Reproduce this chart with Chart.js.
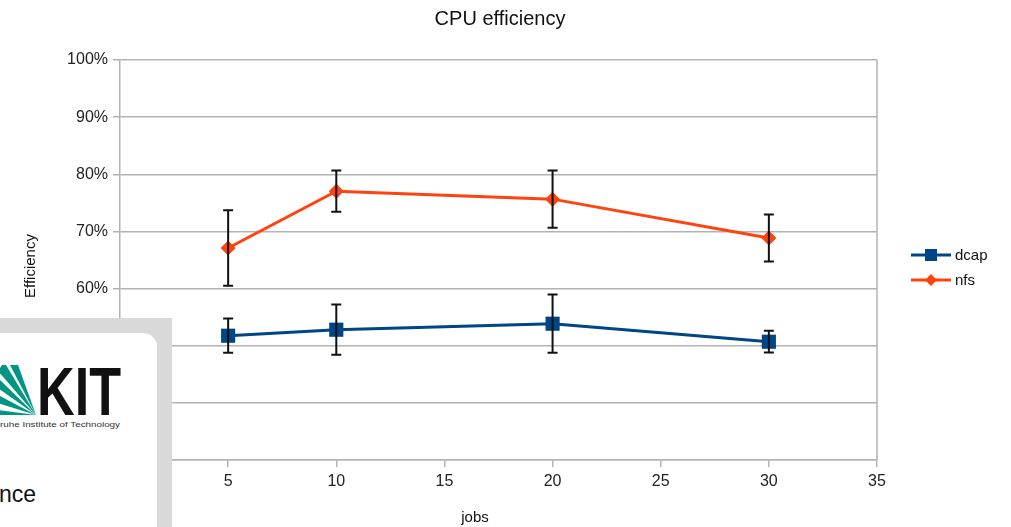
<!DOCTYPE html>
<html><head><meta charset="utf-8">
<script src="https://cdn.jsdelivr.net/npm/chart.js@4"></script>
<style>
html,body{margin:0;padding:0;background:#fff;}
#wrap{position:relative;width:1011px;height:527px;overflow:hidden;}
#overlay{position:absolute;left:0;top:318px;width:172px;height:209px;background:#d9d9d9;}
#card{position:absolute;left:0;top:15px;width:157px;height:194px;background:#fff;border-top-right-radius:14px;overflow:hidden;}
#card svg{position:absolute;left:0;top:0;}
#nce{position:absolute;left:-1px;top:148px;font:23px "Liberation Sans",Arial,sans-serif;color:#111;}
</style></head>
<body><div id="wrap"><canvas id="c" width="1011" height="527"></canvas>
<div id="overlay"><div id="card">
<svg width="157" height="194" viewBox="0 0 157 194">
  <g fill="#009682">
    <polygon points="36,82 -2,82 -2,77"/>
    <polygon points="36,82 -2,70 -2,62"/>
    <polygon points="36,82 -2,55 -2,45"/>
    <polygon points="36,82 -2,38 2,32 6,32"/>
    <polygon points="36,82 10,32 18,32"/>
  </g>
  <text x="37" y="82" font-family="Liberation Sans, Arial, sans-serif" font-weight="bold" font-size="68" fill="#111" textLength="84" lengthAdjust="spacingAndGlyphs">KIT</text>
  <text x="0" y="94" font-family="Liberation Sans, Arial, sans-serif" font-size="8" fill="#333" textLength="120" lengthAdjust="spacingAndGlyphs">ruhe Institute of Technology</text>
</svg>
<div id="nce">nce</div>
</div></div></div>
<script>
const jobs = [5, 10, 20, 30];
const dcapValues = [51.75, 52.8, 53.85, 50.7];
const dcapErrors = [3.0, 4.4, 5.1, 1.9];
const nfsValues = [67.1, 77.05, 75.65, 68.85];
const nfsErrors = [6.6, 3.6, 5.0, 4.1];
const yTicks = [30, 40, 50, 60, 70, 80, 90, 100];
const xTicks = [0, 5, 10, 15, 20, 25, 30, 35];
const seriesNames = ['dcap', 'nfs'];

const FONT = '"Liberation Sans", Arial, sans-serif';
const GRID = '#b3b3b3';

function pts(vals){ return jobs.map((j,i)=>({x:j, y:vals[i]})); }

const extras = {
  id: 'extras',
  afterDatasetsDraw(chart){
    const ctx = chart.ctx, a = chart.chartArea;
    const xs = chart.scales.x, ys = chart.scales.y;
    ctx.save();
    ctx.strokeStyle = GRID; ctx.lineWidth = 1.5;
    ctx.beginPath(); ctx.moveTo(a.right, a.top); ctx.lineTo(a.right, a.bottom); ctx.stroke();
    ctx.strokeStyle = '#111'; ctx.lineWidth = 2;
    chart.data.datasets.forEach(ds=>{
      ds.data.forEach((p,i)=>{
        const e = ds.errors[i];
        const px = xs.getPixelForValue(p.x);
        const t = ys.getPixelForValue(p.y + e), b = ys.getPixelForValue(p.y - e);
        ctx.beginPath();
        ctx.moveTo(px, t); ctx.lineTo(px, b);
        ctx.moveTo(px-5, t); ctx.lineTo(px+5, t);
        ctx.moveTo(px-5, b); ctx.lineTo(px+5, b);
        ctx.stroke();
      });
    });
    ctx.fillStyle = '#111';
    ctx.textAlign = 'center'; ctx.textBaseline = 'middle';
    ctx.font = '20px ' + FONT;
    ctx.fillText('CPU efficiency', 500, 19);
    ctx.font = '15px ' + FONT;
    ctx.fillText('jobs', 475, 518);
    ctx.save();
    ctx.translate(31, 266); ctx.rotate(-Math.PI/2);
    ctx.font = '15px ' + FONT;
    ctx.fillText('Efficiency', 0, 0);
    ctx.restore();
    const ly = [255, 280];
    chart.data.datasets.forEach((ds,i)=>{
      const y = ly[i];
      ctx.strokeStyle = ds.borderColor; ctx.lineWidth = 3;
      ctx.beginPath(); ctx.moveTo(911, y); ctx.lineTo(951, y); ctx.stroke();
      ctx.fillStyle = ds.borderColor;
      if (ds.pointStyle === 'rect') { ctx.fillRect(925, y-6, 12, 12); }
      else { ctx.beginPath(); ctx.moveTo(931, y-6); ctx.lineTo(937, y); ctx.lineTo(931, y+6); ctx.lineTo(925, y); ctx.closePath(); ctx.fill(); }
      ctx.fillStyle = '#111'; ctx.textAlign = 'left'; ctx.font = '15px ' + FONT;
      ctx.fillText(ds.label, 955, y+1);
    });
    ctx.restore();
  }
};

new Chart(document.getElementById('c'), {
  type: 'line',
  data: {
    datasets: [
      { label: seriesNames[0], data: pts(dcapValues), errors: dcapErrors,
        borderColor: '#004586', backgroundColor: '#004586', borderWidth: 3,
        pointStyle: 'rect', pointRadius: 10, pointBackgroundColor: '#004586', pointBorderColor: '#004586', pointBorderWidth: 0, tension: 0 },
      { label: seriesNames[1], data: pts(nfsValues), errors: nfsErrors,
        borderColor: '#ff420e', backgroundColor: '#ff420e', borderWidth: 3,
        pointStyle: 'rectRot', pointRadius: 7.5, pointBackgroundColor: '#ff420e', pointBorderColor: '#ff420e', pointBorderWidth: 0, tension: 0 }
    ]
  },
  options: {
    responsive: false, animation: false, events: [],
    layout: { padding: { top: 60, right: 134, left: 0, bottom: 0 } },
    plugins: { legend: { display: false }, title: { display: false }, tooltip: { enabled: false } },
    scales: {
      x: {
        type: 'linear', min: 0, max: 35,
        afterBuildTicks: s => { s.ticks = xTicks.map(v=>({value:v})); },
        afterFit: s => { s.height = 67; },
        grid: { drawOnChartArea: false, drawTicks: true, tickLength: 7, color: GRID, lineWidth: 1.5 },
        border: { display: true, color: GRID, width: 1.5 },
        ticks: { color: '#222', font: { family: FONT, size: 16 }, padding: 5, callback: v => v === 0 ? '' : String(v) }
      },
      y: {
        type: 'linear', min: 30, max: 100,
        afterBuildTicks: s => { s.ticks = yTicks.map(v=>({value:v})); },
        afterFit: s => { s.width = 120; },
        grid: { drawTicks: true, tickLength: 7, color: GRID, lineWidth: 1.5 },
        border: { display: true, color: GRID, width: 1.5 },
        ticks: { color: '#222', font: { family: FONT, size: 16 }, padding: 5, callback: v => v + '%' }
      }
    }
  },
  plugins: [extras]
});
</script>
</body></html>
